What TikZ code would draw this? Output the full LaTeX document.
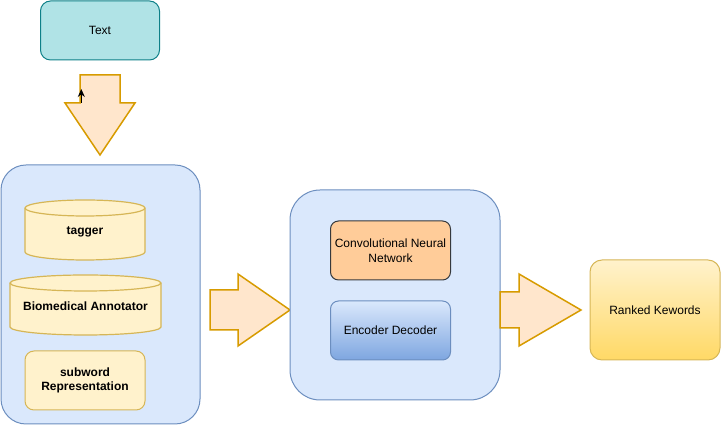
\documentclass[tikz,border=0pt]{standalone}
\usepackage{fontspec}
\setmainfont{Liberation Sans}
\usetikzlibrary{arrows.meta}
\definecolor{tealfill}{HTML}{B0E3E6}
\definecolor{tealline}{HTML}{0E8088}
\definecolor{orfill}{HTML}{FFE6CC}
\definecolor{orline}{HTML}{D79B00}
\definecolor{bluefill}{HTML}{DAE8FC}
\definecolor{blueline}{HTML}{6C8EBF}
\definecolor{bluedark}{HTML}{7EA6E0}
\definecolor{yelfill}{HTML}{FFF2CC}
\definecolor{yelline}{HTML}{D6B656}
\definecolor{yeldark}{HTML}{FFD966}
\definecolor{cnnfill}{HTML}{FFCC99}
\definecolor{cnnline}{HTML}{36393D}
\tikzset{
  lbl/.style={font=\fontsize{12}{14.5}\selectfont, align=center, inner sep=0pt},
  box/.style={lbl, draw, rectangle, line width=1pt},
  blockarrow/.style={fill=orfill, draw=orline, line width=1.5pt, line join=miter}
}
\begin{document}
\begin{tikzpicture}[x=1pt, y=1pt]
		\useasboundingbox (0,0) rectangle (721,427);

		% input
		\node[box, fill=tealfill, draw=tealline, rounded corners=10pt,
		  minimum width=119pt, minimum height=59pt] (text) at (100,396.5) {Text};

		\draw[blockarrow] (80,352) -- (120,352) -- (120,324) -- (135,324) -- (100,272)
		  -- (65,324) -- (80,324) -- cycle;
		\coordinate (markfrom) at (81.3,324);
		\coordinate (markto) at (81.3,338);
		\draw[-{Stealth[length=8pt, width=7pt]}, line width=1pt] (markfrom) -- (markto);

		% left container
		\node[box, fill=bluefill, draw=blueline, rounded corners=25pt,
		  minimum width=199pt, minimum height=259pt] (prep) at (100.5,132.5) {};

		\draw[fill=yelfill, draw=yelline, line width=1.2pt] (25,219) -- (25,175)
		  arc[start angle=180, end angle=360, x radius=60, y radius=8] -- (145,219)
		  arc[start angle=0, end angle=180, x radius=60, y radius=8] -- cycle;
		\draw[draw=yelline, line width=1.2pt] (25,219)
		  arc[start angle=180, end angle=360, x radius=60, y radius=8];
		\node[lbl, font=\fontsize{12}{14.5}\selectfont\bfseries] (tagger) at (85,195.5) {tagger};

		\draw[fill=yelfill, draw=yelline, line width=1.2pt] (10,144) -- (10,100)
		  arc[start angle=180, end angle=360, x radius=75.5, y radius=8] -- (161,144)
		  arc[start angle=0, end angle=180, x radius=75.5, y radius=8] -- cycle;
		\draw[draw=yelline, line width=1.2pt] (10,144)
		  arc[start angle=180, end angle=360, x radius=75.5, y radius=8];
		\node[lbl, font=\fontsize{12}{14.5}\selectfont\bfseries] (annot) at (85.5,121) {Biomedical Annotator};

		\node[box, fill=yelfill, draw=yelline, rounded corners=9pt,
		  minimum width=120pt, minimum height=59pt,
		  font=\fontsize{12}{14.5}\selectfont\bfseries] (subword) at (85,46.5) {subword\\Representation};

		\draw[blockarrow] (210,137) -- (238,137) -- (238,153) -- (290,117) -- (238,81)
		  -- (238,97) -- (210,97) -- cycle;

		% model container
		\node[box, fill=bluefill, draw=blueline, rounded corners=30pt,
		  minimum width=210pt, minimum height=210pt] (model) at (395,132) {};

		\node[box, fill=cnnfill, draw=cnnline, rounded corners=8pt,
		  minimum width=120pt, minimum height=59pt] (cnn) at (390.5,176.5) {Convolutional Neural\\Network};
		\node[box, top color=bluefill, bottom color=bluedark, draw=blueline, rounded corners=8pt,
		  minimum width=120pt, minimum height=59pt] (encdec) at (390.5,96.5) {Encoder Decoder};

		\draw[blockarrow] (500,135) -- (519,135) -- (519,153) -- (581,117) -- (519,81)
		  -- (519,99) -- (500,99) -- cycle;

		% output
		\node[box, top color=yelfill, bottom color=yeldark, draw=yelline, rounded corners=12pt,
		  minimum width=130pt, minimum height=100pt] (ranked) at (655,117) {Ranked Kewords};
	\end{tikzpicture}
\end{document}
